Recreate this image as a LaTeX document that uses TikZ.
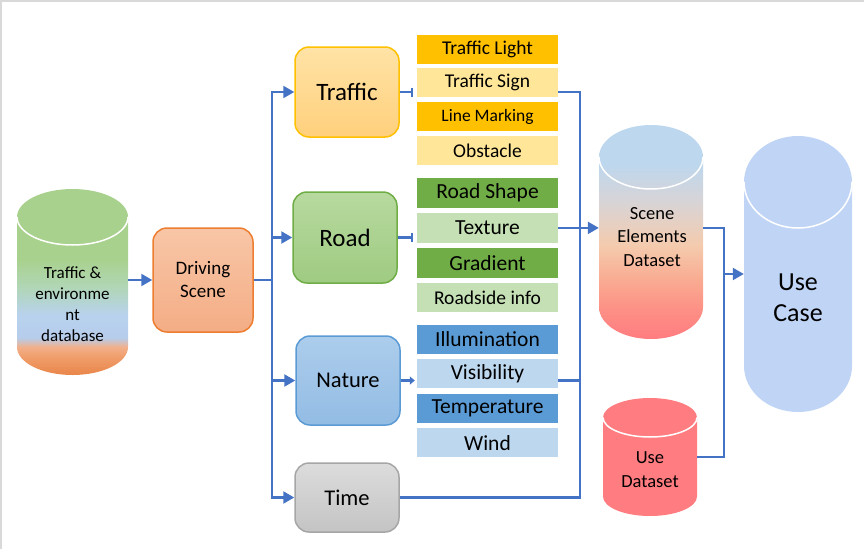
\documentclass[tikz,border=0pt]{standalone}
\usepackage{fontspec}
\setmainfont{Carlito}
\usepackage{xcolor}
\usepackage{tikz}
\usetikzlibrary{arrows.meta,positioning,calc}
\definecolor{flowblue}{HTML}{4472C4}
\definecolor{framegray}{HTML}{D9D9D9}
\definecolor{trdark}{HTML}{FFC000}
\definecolor{trlight}{HTML}{FFE699}
\definecolor{trtop}{HTML}{FFE3A6}
\definecolor{trbot}{HTML}{FFD07C}
\definecolor{rddark}{HTML}{70AD47}
\definecolor{rdlight}{HTML}{C5E0B4}
\definecolor{rdtop}{HTML}{B7D99F}
\definecolor{rdbot}{HTML}{9FCB82}
\definecolor{ntdark}{HTML}{5B9BD5}
\definecolor{ntlight}{HTML}{BDD7EE}
\definecolor{nttop}{HTML}{ACCDEC}
\definecolor{ntbot}{HTML}{93BCE4}
\definecolor{tmtop}{HTML}{DCDCDC}
\definecolor{tmbot}{HTML}{C4C4C4}
\definecolor{tmborder}{HTML}{A6A6A6}
\definecolor{drtop}{HTML}{F8C6A7}
\definecolor{drbot}{HTML}{F4AD85}
\definecolor{drborder}{HTML}{ED7D31}
\definecolor{casefill}{HTML}{C0D5F5}
\definecolor{usefill}{HTML}{FF7C80}
% gradient stops
\definecolor{dbA}{HTML}{E9864A}
\definecolor{dbB}{HTML}{F09E6C}
\definecolor{dbC}{HTML}{F2B08A}
\definecolor{dbD}{HTML}{B6CDEB}
\definecolor{dbE}{HTML}{B8D2EE}
\definecolor{dbF}{HTML}{B0D6B4}
\definecolor{dbG}{HTML}{A9D18E}
\definecolor{seA}{HTML}{FF7C80}
\definecolor{seB}{HTML}{FD9086}
\definecolor{seC}{HTML}{F9AC92}
\definecolor{seD}{HTML}{F4CBAE}
\definecolor{seE}{HTML}{D8D4D6}
\definecolor{seF}{HTML}{BDD7EE}
% database and dataset gradients (25bp = bottom, 75bp = top)
\pgfdeclareverticalshading{dbshade}{100bp}{color(0bp)=(dbA); color(25bp)=(dbA);
  color(30bp)=(dbB); color(32.5bp)=(dbC); color(35bp)=(dbD);
  color(41bp)=(dbE); color(49bp)=(dbF); color(56bp)=(dbG);
  color(100bp)=(dbG)}
\pgfdeclareverticalshading{sceneshade}{100bp}{color(0bp)=(seA); color(25bp)=(seA);
  color(32bp)=(seB); color(39bp)=(seC); color(47bp)=(seD);
  color(57bp)=(seE); color(66bp)=(seF); color(100bp)=(seF)}
\tikzstyle{arrow} = [-{Triangle[length=11pt,width=12pt]}, line width=2.2pt, flowblue]
\tikzstyle{link} = [line width=2.2pt, flowblue]

\begin{document}
\begin{tikzpicture}[x=1pt, y=-1pt,
  groupbox/.style={rectangle, rounded corners=14pt, line width=1.5pt, minimum width=104pt, inner sep=0pt, font=\fontsize{25}{28}\selectfont},
  itembox/.style={rectangle, minimum width=141pt, minimum height=29pt, inner sep=0pt, font=\fontsize{19.5}{20}\selectfont},
  cylnode/.style={rectangle, inner sep=0pt},
  cyltext/.style={align=center, inner sep=0pt}]
\useasboundingbox (0,0) rectangle (864,549);
\draw[framegray, line width=1.5pt] (0.75,549) -- (0.75,0.75) -- (864,0.75);

% source database
\node[cylnode, minimum width=111pt, minimum height=186pt] (db) at (72.5,282) {};
\shade[shading=dbshade] (17,217) arc[start angle=180, end angle=360, x radius=55.5, y radius=28] -- (128,347)
  arc[start angle=0, end angle=180, x radius=55.5, y radius=28] -- cycle;
\draw[white, line width=1.5pt] (17,217) arc[start angle=180, end angle=0, x radius=55.5, y radius=28];
\node[cyltext, font=\fontsize{17}{21}\selectfont] (dbtitle) at (72.5,304) {Traffic \&\\environme\\nt\\database};

\node[groupbox, minimum width=100pt, minimum height=104pt, draw=drborder, top color=drtop, bottom color=drbot, align=center,
  font=\fontsize{19}{23}\selectfont] (drive) at (203,280) {Driving\\Scene};

% scene groups
\node[groupbox, minimum height=90pt, draw=trdark, top color=trtop, bottom color=trbot] (traffic) at (347,92) {Traffic};
\node[groupbox, minimum height=91pt, draw=rddark, top color=rdtop, bottom color=rdbot] (road) at (345,237.5) {Road};
\node[groupbox, minimum height=89pt, draw=ntdark, top color=nttop, bottom color=ntbot, font=\fontsize{22.5}{26}\selectfont] (nature) at (348,380.5) {Nature};
\node[groupbox, minimum height=69pt, draw=tmborder, top color=tmtop, bottom color=tmbot, font=\fontsize{22.5}{26}\selectfont] (time) at (347,497.5) {Time};

% element lists
\node[itembox, fill=trdark] (tlight) at (487.5,49) {Traffic Light};
\node[itembox, fill=trlight, below=4.5pt of tlight] (tsign) {Traffic Sign};
\node[itembox, fill=trdark, below=4.5pt of tsign, font=\fontsize{17.5}{20}\selectfont] (tline) {Line Marking};
\node[itembox, fill=trlight, below=4.5pt of tline] (tobst) {Obstacle};

\node[itembox, minimum height=29.5pt, fill=rddark, font=\fontsize{21.5}{22}\selectfont] (rshape) at (487.5,193) {Road Shape};
\node[itembox, minimum height=29.5pt, fill=rdlight, below=5pt of rshape, font=\fontsize{21.5}{22}\selectfont] (texture) {Texture};
\node[itembox, minimum height=29.5pt, fill=rddark, below=5pt of texture, font=\fontsize{21.5}{22}\selectfont] (gradient) {Gradient};
\node[itembox, minimum height=29.5pt, fill=rdlight, below=5pt of gradient, font=\fontsize{19.5}{20}\selectfont] (roadside) {Roadside info};

\node[itembox, fill=ntdark, font=\fontsize{21.5}{22}\selectfont] (illum) at (487.5,339.5) {Illumination};
\node[itembox, fill=ntlight, below=5pt of illum, font=\fontsize{21.5}{22}\selectfont] (visib) {Visibility};
\node[itembox, fill=ntdark, below=5pt of visib, font=\fontsize{21.5}{22}\selectfont] (temp) {Temperature};
\node[itembox, fill=ntlight, below=5pt of temp, font=\fontsize{21.5}{22}\selectfont] (wind) {Wind};

% datasets
\node[cylnode, minimum width=104pt, minimum height=214pt] (scene) at (651,232) {};
\shade[shading=sceneshade] (599,157) arc[start angle=180, end angle=360, x radius=52, y radius=32] -- (703,307)
  arc[start angle=0, end angle=180, x radius=52, y radius=32] -- cycle;
\draw[white, line width=1.5pt] (599,157) arc[start angle=180, end angle=0, x radius=52, y radius=32];
\node[cyltext, font=\fontsize{18.5}{23.5}\selectfont] (scenetitle) at (652,237) {Scene\\Elements\\Dataset};

\node[cylnode, minimum width=94pt, minimum height=118pt] (usedata) at (650,457) {};
\fill[usefill] (603,417.5) arc[start angle=180, end angle=360, x radius=47, y radius=19.5] -- (697,496.5)
  arc[start angle=0, end angle=180, x radius=47, y radius=19.5] -- cycle;
\draw[white, line width=1.5pt] (603,417.5) arc[start angle=180, end angle=0, x radius=47, y radius=19.5];
\node[cyltext, font=\fontsize{18.5}{24}\selectfont] (usedatatitle) at (650,470) {Use\\Dataset};

\node[cylnode, minimum width=108pt, minimum height=276pt] (usecase) at (798,274) {};
\fill[casefill] (744,182) arc[start angle=180, end angle=360, x radius=54, y radius=46] -- (852,366)
  arc[start angle=0, end angle=180, x radius=54, y radius=46] -- cycle;
\draw[white, line width=1.5pt] (744,182) arc[start angle=180, end angle=0, x radius=54, y radius=46];
\node[cyltext, font=\fontsize{26}{31}\selectfont] (usecasetitle) at (798,298) {Use\\Case};

% connectors
\coordinate (split) at (272,280);
\coordinate (merge) at ($(texture.east)+(22,0)$);
\coordinate (join) at (724,274);

\draw[arrow] (db.east |- drive.west) -- (drive.west);
\draw[link] (drive.east) -- (split);
\draw[arrow] (split) |- (traffic.west);
\draw[arrow] (split) |- (road.west);
\draw[arrow] (split) |- (nature.west);
\draw[arrow] (split) |- (time.west);

\draw[link, -{Bar[width=9pt]}, shorten >=4pt] (traffic.east) -- (tsign.west |- traffic.east);
\draw[link, -{Bar[width=9pt]}, shorten >=4pt] (road.east) -- (texture.west |- road.east);
\draw[link, -{Triangle[length=5pt,width=8pt]}, shorten >=2pt] (nature.east) -- (visib.west |- nature.east);

\draw[link] (tsign.east |- traffic) -| (merge);
\draw[link] (texture.east) -- (merge);
\draw[link] (visib.east |- nature) -| (merge);
\draw[link] (time.east) -| (merge);
\draw[arrow] (merge) -- (scene.west |- merge);

\draw[link] (scene.east |- merge) -| (join) |- (usedata.east);
\draw[arrow] (join) -- (usecase.west |- join);
\end{tikzpicture}
\end{document}
